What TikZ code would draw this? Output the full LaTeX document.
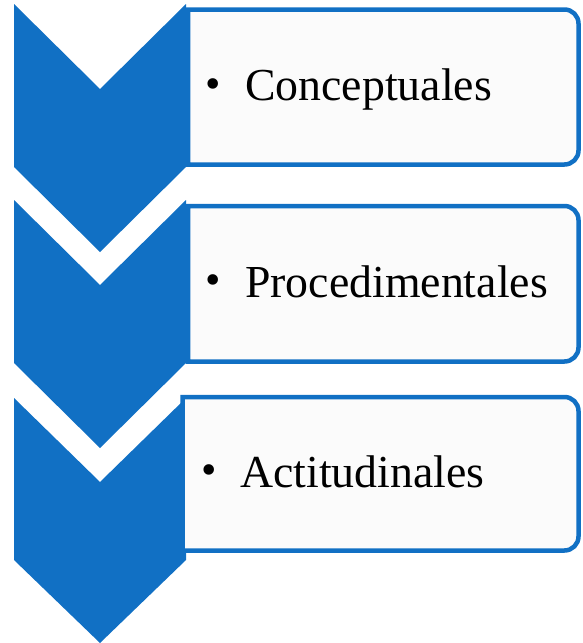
\documentclass[tikz,border=0pt]{standalone}
\usepackage{fontspec}
\setmainfont{Liberation Serif}
\definecolor{cblue}{HTML}{1170C4}
\definecolor{boxfill}{HTML}{FBFBFB}
\tikzset{
  chev/.style={fill=cblue, draw=none},
  listbox/.style={draw=cblue, line width=4.5pt, fill=boxfill},
  itemtext/.style={font=\fontsize{45.8}{52}\selectfont, anchor=base west, inner sep=0pt, text=black},
  bul/.style={font=\fontsize{44}{44}\selectfont, anchor=base, inner sep=0pt, text=black}
}
\newcommand{\listboxpath}[3]{% left, top, bottom
  \draw[listbox] (#1,#3) -- (#1,#2) -- (564.5,#2)
    arc[start angle=-90, end angle=0, radius=14]
    -- (578.5,#3-14) arc[start angle=0, end angle=90, radius=14]
    -- cycle;}
\begin{document}
\begin{tikzpicture}[x=1pt,y=-1pt]
\useasboundingbox (0,0) rectangle (582,643);
% chevrons
\fill[chev] (14,4) -- (100,89) -- (186,4) -- (186,167) -- (100,252) -- (14,167) -- cycle;
\fill[chev] (14,200) -- (100,285) -- (186,200) -- (186,363) -- (100,448) -- (14,363) -- cycle;
\fill[chev] (14,398) -- (100,482) -- (186,398) -- (186,560) -- (100,643) -- (14,560) -- cycle;
% boxes
\listboxpath{188}{9.5}{164.5}
\listboxpath{188}{206}{361.5}
\listboxpath{182.5}{397}{550.5}
% texts
\node[bul] (b1) at (213,98.7) {\textbullet};
\node[itemtext] (t1) at (245,100) {Conceptuales};
\node[bul] (b2) at (213,294.7) {\textbullet};
\node[itemtext] (t2) at (245,297) {Procedimentales};
\node[bul] (b3) at (209,484.7) {\textbullet};
\node[itemtext] (t3) at (240,487) {Actitudinales};
\end{tikzpicture}
\end{document}
